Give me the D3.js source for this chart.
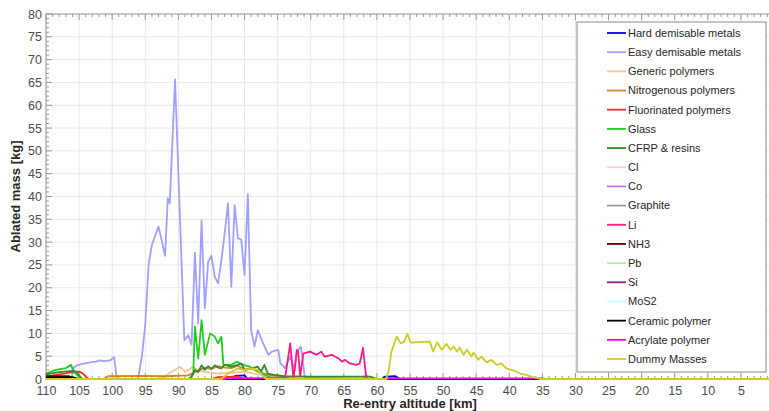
<!DOCTYPE html>
<html>
<head>
<meta charset="utf-8">
<script src="https://cdn.jsdelivr.net/npm/d3@7"></script>
<style>
  body { margin: 0; background: #fff; }
  svg { font-family: Arial, "Liberation Sans", sans-serif; }
  .tick text { fill: #4d4d4d; font-size: 12.5px; }
  .axis-label { font-weight: bold; font-size: 13px; fill: #262626; }
  .legend text { font-size: 11px; fill: #262626; }
</style>
</head>
<body>
<svg width="769" height="411"></svg>
<script>
// altitude [km], ablated mass [kg]
const hardDemisable = [[110,0],[81.8,0],[81.4,0.7],[80,0.8],[79.5,0],[59.2,0],[58.8,0.5],[57.2,0.6],[56.6,0],[35,0]];
const easyDemisable = [[110,0],[106.2,0],[105.8,2.5],[105.3,3.0],[104.5,3.3],[103.5,3.6],[102.5,3.8],[101.8,4.1],[101.2,3.9],[100.3,4.1],[99.7,4.8],[99.3,0],[96.1,0],[95.5,5],[95,12],[94.5,25],[94,29.4],[93,33.4],[92,27],[91.6,39.6],[91.3,38.5],[90.5,65.7],[89.1,8.5],[88.5,9.6],[88,7.5],[87.5,27.7],[87,12.2],[86.5,34.8],[86,15.5],[85.5,25.7],[85,27],[84.5,22.4],[84,21],[83.5,26],[83,32],[82.5,38.5],[82,20.2],[81.5,38.1],[81,30.8],[80.5,30.6],[80,22.8],[79.5,40.5],[79,10.7],[78.5,7.1],[78,10.7],[77.3,8.2],[76.4,5.3],[75.9,6],[74.9,6.4],[74.6,3.5],[73.9,2.4],[73.1,4.9],[72.4,2],[72.1,6],[71.5,7.1],[71.1,2.7],[70.9,0.3],[62,0],[61.6,1.0],[61.3,0],[35,0]];
const genericPolymers = [[110,0],[93,0],[92,0.5],[91.5,1.2],[90.5,2],[89.8,2.7],[89,1.6],[88.5,2],[87.8,2.7],[87.2,2],[86,1.5],[84,1.2],[82,1.4],[80,1.6],[78,1.0],[76,0.5],[74,0],[35,0]];
const nitrogenousPolymers = [[110,0],[101.3,0],[100.6,0.6],[96,0.7],[92,0.6],[88.5,0.8],[87.5,1.5],[86,2.5],[85,2.2],[84,2.8],[83,2.5],[82,2.4],[81,2.9],[80,2.0],[79,2.4],[78,1.6],[77,1.2],[76,0.8],[75,0.6],[74,0.3],[73,0],[35,0]];
const fluorinatedPolymers = [[110,0.5],[108,1.0],[106,1.5],[105,1.6],[104.5,1.3],[104,0.6],[103.6,0],[85,0],[84,0.4],[81,0.5],[80,0],[35,0]];
const glass = [[110,1.2],[108.5,2],[107,2.4],[106.2,3.1],[105.8,1.5],[105,0.5],[104.4,0],[88.2,0],[87.75,1.2],[87.5,11.5],[87,4.5],[86.5,12.9],[86,5.3],[85.2,10],[84.5,9.3],[84,7.8],[83.5,9.3],[83.2,3.1],[82,3.1],[81.2,3.8],[80.2,3.1],[79.2,2.7],[77.9,1.6],[76.5,0.6],[75.5,0],[35,0]];
const cfrpResins = [[110,1.0],[108,1.5],[106,1.8],[105.4,1.6],[104.6,0],[88.5,0],[88,0.5],[87.5,2.0],[87,1.5],[86.5,3.0],[86,2.0],[85.5,2.8],[85,2.2],[84.5,3.0],[84,2.5],[83.5,2.3],[83,3.1],[82,2.7],[81,3.1],[80.5,3.4],[80,2.0],[79,2.3],[78,2.7],[77.5,1.6],[77,3.1],[76.5,1.2],[75.5,0.9],[74,0.6],[70,0.5],[65,0.5],[61,0.5],[60,0],[35,0]];
const cl = [[110,0],[35,0]];
const co = [[110,0],[35,0]];
const graphite = [[110,0],[35,0]];
const li = [[110,0],[73.9,0],[73.1,7.8],[72.6,0],[72.1,6.4],[71.9,6],[71.6,0.5],[71.1,5.6],[70.1,6],[69.1,5.3],[68.4,6],[67.9,4.9],[66.8,5.3],[65.8,4.5],[65.3,3.8],[64.8,4.2],[64.1,3.4],[63.1,3.1],[62.6,3.4],[62.1,6.8],[61.6,0],[35,0]];
const nh3 = [[110,0.6],[106.5,0.6],[106,0],[35,0]];
const pb = [[110,0],[35,0]];
const si = [[110,0],[35,0]];
const mos2 = [[110,0],[35,0]];
const ceramicPolymer = [[110,0.3],[106,0.4],[105,0],[35,0]];
const acrylatePolymer = [[110,0],[83,0],[82.5,0.2],[73.5,0.2],[73,0],[58.5,0],[58,0.15],[35,0.15],[34.5,0]];
const dummyMasses = [[110,0],[83.5,0],[82.5,1.2],[82,1.6],[81,2.3],[80,2.0],[79,2.3],[78,2.0],[77.5,1.2],[76.8,0],[58.6,0],[58.2,2],[57.8,6],[57.0,9.3],[56.4,7.8],[55.9,8.2],[55.4,9.9],[54.9,8],[52,8.2],[51.5,6],[50.9,8],[50.2,6.4],[49.5,7.7],[48.9,6.4],[48.4,7.1],[47.9,6],[47.5,6.9],[46.9,5.3],[46.4,6.4],[45.7,4.9],[45.4,5.8],[44.7,4.2],[44.2,4.9],[43.4,3.6],[42.7,4.2],[41.9,3.1],[41.2,3.4],[40.4,2.3],[39.7,2],[39.2,1.8],[38.4,1.2],[37.4,0.9],[36.4,0.4],[35.4,0],[0,0]];

const seriesNames = ['Hard demisable metals','Easy demisable metals','Generic polymers','Nitrogenous polymers','Fluorinated polymers','Glass','CFRP & resins','Cl','Co','Graphite','Li','NH3','Pb','Si','MoS2','Ceramic polymer','Acrylate polymer','Dummy Masses'];
const seriesColors = ['#0000ff','#a0a0ff','#ffc090','#d8812e','#ff2a2a','#22cc22','#2e8b2e','#ffcccc','#bb77ee','#999999','#ff1a8c','#660000','#99ff99','#882288','#ccffff','#000000','#ff00ff','#cccc22'];
const seriesValues = [hardDemisable,easyDemisable,genericPolymers,nitrogenousPolymers,fluorinatedPolymers,glass,cfrpResins,cl,co,graphite,li,nh3,pb,si,mos2,ceramicPolymer,acrylatePolymer,dummyMasses];

const xTicks = d3.range(110, 4, -5);
const yTicks = d3.range(0, 81, 5);

const svg = d3.select('svg');
const margin = { top: 14, left: 46, right: -5, bottom: 32 };
const width = +svg.attr('width');
const height = +svg.attr('height');
const innerWidth = width - margin.left - margin.right;
const innerHeight = height - margin.top - margin.bottom;

const xScale = d3.scaleLinear().domain([110, 0]).range([0, innerWidth]);
const yScale = d3.scaleLinear().domain([0, 80]).range([innerHeight, 0]);

const g = svg.append('g')
  .attr('transform', `translate(${margin.left},${margin.top})`);

// grid
g.append('g').selectAll('line').data(xTicks).join('line')
  .attr('x1', d => xScale(d)).attr('x2', d => xScale(d))
  .attr('y1', 0).attr('y2', innerHeight)
  .attr('stroke', '#e8e8e8');
g.append('g').selectAll('line').data(yTicks).join('line')
  .attr('y1', d => yScale(d)).attr('y2', d => yScale(d))
  .attr('x1', 0).attr('x2', innerWidth)
  .attr('stroke', '#e8e8e8');

// frame
g.append('rect')
  .attr('width', innerWidth).attr('height', innerHeight)
  .attr('fill', 'none').attr('stroke', '#999');

// minor ticks
const xMinor = d3.range(110, -1, -1);
const yMinor = d3.range(0, 81, 1);
g.append('g').selectAll('line').data(xMinor).join('line')
  .attr('x1', d => xScale(d)).attr('x2', d => xScale(d))
  .attr('y1', innerHeight).attr('y2', d => innerHeight - (d % 5 === 0 ? 6 : 3))
  .attr('stroke', '#999');
g.append('g').selectAll('line').data(xMinor).join('line')
  .attr('x1', d => xScale(d)).attr('x2', d => xScale(d))
  .attr('y1', 0).attr('y2', d => (d % 5 === 0 ? 6 : 3))
  .attr('stroke', '#999');
g.append('g').selectAll('line').data(yMinor).join('line')
  .attr('y1', d => yScale(d)).attr('y2', d => yScale(d))
  .attr('x1', 0).attr('x2', d => (d % 5 === 0 ? 6 : 3))
  .attr('stroke', '#999');

const xAxis = d3.axisBottom(xScale).tickValues(xTicks).tickSize(0).tickPadding(7);
const yAxis = d3.axisLeft(yScale).tickValues(yTicks).tickSize(0).tickPadding(4);

const xAxisG = g.append('g').attr('transform', `translate(0,${innerHeight})`).call(xAxis);
xAxisG.select('.domain').remove();
const yAxisG = g.append('g').call(yAxis);
yAxisG.select('.domain').remove();

g.append('text')
  .attr('class', 'axis-label')
  .attr('x', (xScale(110) + xScale(0)) / 2)
  .attr('y', innerHeight + 29)
  .attr('text-anchor', 'middle')
  .text('Re-entry altitude [km]');

g.append('text')
  .attr('class', 'axis-label')
  .attr('transform', 'rotate(-90)')
  .attr('x', -innerHeight / 2)
  .attr('y', -26)
  .attr('text-anchor', 'middle')
  .text('Ablated mass [kg]');

// lines
svg.append('clipPath').attr('id', 'plot-clip')
  .append('rect').attr('width', innerWidth).attr('height', innerHeight + 1);

const lineGenerator = d3.line()
  .x(d => xScale(d[0]))
  .y(d => yScale(d[1]));

g.append('g').attr('clip-path', 'url(#plot-clip)')
  .selectAll('path').data(seriesValues).join('path')
  .attr('d', d => lineGenerator(d))
  .attr('fill', 'none')
  .attr('stroke', (d, i) => seriesColors[i])
  .attr('stroke-width', 1.8)
  .attr('stroke-linejoin', 'round');

// legend
const legend = svg.append('g').attr('class', 'legend');
legend.append('rect')
  .attr('x', 577).attr('y', 22)
  .attr('width', 189).attr('height', 350)
  .attr('fill', '#fff').attr('stroke', '#888');

const legendY = d3.scalePoint().domain(seriesNames).range([33, 359]);
const items = legend.selectAll('g.item').data(seriesNames).join('g')
  .attr('class', 'item')
  .attr('transform', d => `translate(0,${legendY(d)})`);
items.append('line')
  .attr('x1', 607).attr('x2', 626)
  .attr('stroke', (d, i) => seriesColors[i])
  .attr('stroke-width', 1.8);
items.append('text')
  .attr('x', 628).attr('dy', '0.35em')
  .text(d => d);
</script>
</body>
</html>
